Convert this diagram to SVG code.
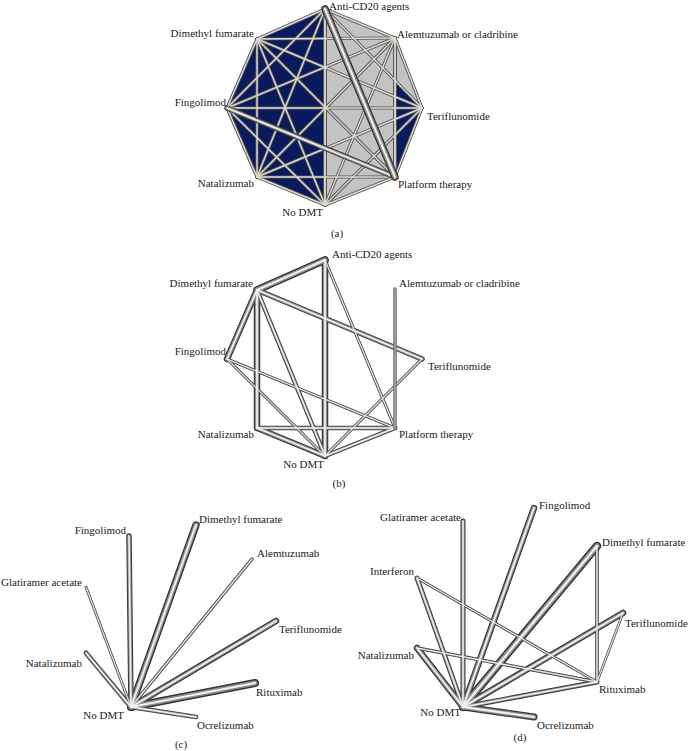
<svg xmlns="http://www.w3.org/2000/svg" width="688" height="751" viewBox="0 0 688 751">
<style>
text{font-family:"Liberation Serif","Times New Roman",serif;font-size:11px;fill:#1a1a1a}
.end{text-anchor:end}
.mid{text-anchor:middle}
line{stroke-linecap:round;fill:none}
.ao{stroke:#555}
.ai{stroke:#dedbd2}
.o{stroke:#363636}
.m{stroke:#8e8e8e}
.i{stroke:#f0f0f0}
</style>
<rect width="688" height="751" fill="#fff"/>

<!-- Panel (a) fills -->
<g id="a-fill">
<polygon points="325,9 395,38 422,108 395,177 325,205 257,177 227,108 257,39" fill="#0b1a5c"/>
<polygon points="325,9 395,38 422,108 395,80.4 395,177 325,205" fill="#c3c3c3"/>
</g>

<g id="a-edges">
<g stroke-width="3.2" class="ao">
<line x1="325" y1="9" x2="395" y2="38"/><line x1="395" y1="38" x2="422" y2="108"/><line x1="422" y1="108" x2="395" y2="177"/><line x1="395" y1="177" x2="325" y2="205"/><line x1="325" y1="205" x2="257" y2="177"/><line x1="257" y1="177" x2="227" y2="108"/><line x1="227" y1="108" x2="257" y2="39"/><line x1="257" y1="39" x2="325" y2="9"/>
<line x1="325" y1="9" x2="422" y2="108"/><line x1="325" y1="9" x2="257" y2="177"/><line x1="325" y1="9" x2="227" y2="108"/>
<line x1="395" y1="38" x2="325" y2="205"/><line x1="395" y1="38" x2="257" y2="177"/><line x1="395" y1="38" x2="227" y2="108"/><line x1="395" y1="38" x2="257" y2="39"/>
<line x1="422" y1="108" x2="325" y2="205"/><line x1="422" y1="108" x2="257" y2="177"/><line x1="422" y1="108" x2="227" y2="108"/><line x1="422" y1="108" x2="257" y2="39"/>
<line x1="395" y1="177" x2="257" y2="177"/><line x1="395" y1="177" x2="257" y2="39"/>
<line x1="325" y1="205" x2="227" y2="108"/><line x1="325" y1="205" x2="257" y2="39"/>
<line x1="257" y1="177" x2="257" y2="39"/>
<line x1="325" y1="9" x2="325" y2="205" stroke-width="4"/><line x1="395" y1="38" x2="395" y2="177" stroke-width="4"/>
</g>
<g stroke-width="1.4" class="ai">
<line x1="325" y1="9" x2="395" y2="38"/><line x1="395" y1="38" x2="422" y2="108"/><line x1="422" y1="108" x2="395" y2="177"/><line x1="395" y1="177" x2="325" y2="205"/><line x1="325" y1="205" x2="257" y2="177"/><line x1="257" y1="177" x2="227" y2="108"/><line x1="227" y1="108" x2="257" y2="39"/><line x1="257" y1="39" x2="325" y2="9"/>
<line x1="325" y1="9" x2="422" y2="108"/><line x1="325" y1="9" x2="257" y2="177"/><line x1="325" y1="9" x2="227" y2="108"/>
<line x1="395" y1="38" x2="325" y2="205"/><line x1="395" y1="38" x2="257" y2="177"/><line x1="395" y1="38" x2="227" y2="108"/><line x1="395" y1="38" x2="257" y2="39"/>
<line x1="422" y1="108" x2="325" y2="205"/><line x1="422" y1="108" x2="257" y2="177"/><line x1="422" y1="108" x2="227" y2="108"/><line x1="422" y1="108" x2="257" y2="39"/>
<line x1="395" y1="177" x2="257" y2="177"/><line x1="395" y1="177" x2="257" y2="39"/>
<line x1="325" y1="205" x2="227" y2="108"/><line x1="325" y1="205" x2="257" y2="39"/>
<line x1="257" y1="177" x2="257" y2="39"/>
<line x1="325" y1="9" x2="325" y2="205" stroke-width="1.8"/><line x1="395" y1="38" x2="395" y2="177" stroke-width="1.8"/>
</g>
<g>
<line x1="395" y1="177" x2="227" y2="108" class="o" stroke-width="5.5"/><line x1="395" y1="177" x2="227" y2="108" class="m" stroke-width="3.6"/><line x1="395" y1="177" x2="227" y2="108" class="i" stroke-width="1.6"/>
<line x1="325" y1="9" x2="395" y2="177" class="o" stroke-width="7.5"/><line x1="325" y1="9" x2="395" y2="177" class="m" stroke-width="4.8"/><line x1="325" y1="9" x2="395" y2="177" class="i" stroke-width="2"/>
</g>
</g>

<g id="a-nodes">
<g id="a-anticd20"><text x="329" y="10">Anti-CD20 agents</text></g>
<g id="a-alemtuzumab"><text x="397" y="38">Alemtuzumab or cladribine</text></g>
<g id="a-dmf"><text x="254" y="37" class="end">Dimethyl fumarate</text></g>
<g id="a-fingolimod"><text x="226" y="106" class="end">Fingolimod</text></g>
<g id="a-teriflunomide"><text x="427" y="120">Teriflunomide</text></g>
<g id="a-natalizumab"><text x="254" y="187" class="end">Natalizumab</text></g>
<g id="a-platform"><text x="398" y="188">Platform therapy</text></g>
<g id="a-nodmt"><text x="323" y="216" class="end">No DMT</text></g>
<text x="337" y="237" class="mid">(a)</text>
</g>

<!-- Panel (b) -->
<g id="b-edges">
<g class="o">
<line x1="325" y1="260" x2="395" y2="428" stroke-width="3"/><line x1="227" y1="359" x2="325" y2="456" stroke-width="3"/><line x1="227" y1="359" x2="395" y2="428" stroke-width="3"/><line x1="422" y1="359" x2="325" y2="456" stroke-width="3"/>
<line x1="257" y1="290" x2="325" y2="456" stroke-width="4.5"/><line x1="257" y1="428" x2="395" y2="428" stroke-width="4.5"/><line x1="325" y1="456" x2="395" y2="428" stroke-width="4.5"/>
<line x1="257" y1="290" x2="422" y2="359" stroke-width="5.5"/>
<line x1="257" y1="290" x2="227" y2="359" stroke-width="6.5"/><line x1="257" y1="290" x2="257" y2="428" stroke-width="6.5"/><line x1="325" y1="260" x2="325" y2="456" stroke-width="6.5"/><line x1="257" y1="428" x2="325" y2="456" stroke-width="6"/>
<line x1="257" y1="290" x2="325" y2="260" stroke-width="7.5"/>
</g>
<g class="m">
<line x1="325" y1="260" x2="395" y2="428" stroke-width="1.9"/><line x1="227" y1="359" x2="325" y2="456" stroke-width="1.9"/><line x1="227" y1="359" x2="395" y2="428" stroke-width="1.9"/><line x1="422" y1="359" x2="325" y2="456" stroke-width="1.9"/>
<line x1="257" y1="290" x2="325" y2="456" stroke-width="2.9"/><line x1="257" y1="428" x2="395" y2="428" stroke-width="2.9"/><line x1="325" y1="456" x2="395" y2="428" stroke-width="2.9"/>
<line x1="257" y1="290" x2="422" y2="359" stroke-width="3.6"/>
<line x1="257" y1="290" x2="227" y2="359" stroke-width="4.2"/><line x1="257" y1="290" x2="257" y2="428" stroke-width="4.2"/><line x1="325" y1="260" x2="325" y2="456" stroke-width="4.2"/><line x1="257" y1="428" x2="325" y2="456" stroke-width="3.9"/>
<line x1="257" y1="290" x2="325" y2="260" stroke-width="4.9"/>
</g>
<g class="i">
<line x1="325" y1="260" x2="395" y2="428" stroke-width="1"/><line x1="227" y1="359" x2="325" y2="456" stroke-width="1"/><line x1="227" y1="359" x2="395" y2="428" stroke-width="1"/><line x1="422" y1="359" x2="325" y2="456" stroke-width="1"/>
<line x1="257" y1="290" x2="325" y2="456" stroke-width="1.4"/><line x1="257" y1="428" x2="395" y2="428" stroke-width="1.4"/><line x1="325" y1="456" x2="395" y2="428" stroke-width="1.4"/>
<line x1="257" y1="290" x2="422" y2="359" stroke-width="1.6"/>
<line x1="257" y1="290" x2="227" y2="359" stroke-width="1.8"/><line x1="257" y1="290" x2="257" y2="428" stroke-width="1.8"/><line x1="325" y1="260" x2="325" y2="456" stroke-width="1.8"/><line x1="257" y1="428" x2="325" y2="456" stroke-width="1.7"/>
<line x1="257" y1="290" x2="325" y2="260" stroke-width="2"/>
</g>
<line x1="395" y1="289" x2="395" y2="428" stroke="#6a6a6a" stroke-width="3.5"/><line x1="395" y1="289" x2="395" y2="428" stroke="#a8a8a8" stroke-width="1.5"/>
</g>

<g id="b-nodes">
<g id="b-anticd20"><text x="332" y="258">Anti-CD20 agents</text></g>
<g id="b-alemtuzumab"><text x="399" y="287">Alemtuzumab or cladribine</text></g>
<g id="b-dmf"><text x="253" y="287" class="end">Dimethyl fumarate</text></g>
<g id="b-fingolimod"><text x="226" y="355" class="end">Fingolimod</text></g>
<g id="b-teriflunomide"><text x="428" y="370">Teriflunomide</text></g>
<g id="b-natalizumab"><text x="254" y="438" class="end">Natalizumab</text></g>
<g id="b-platform"><text x="399" y="438">Platform therapy</text></g>
<g id="b-nodmt"><text x="324" y="468" class="end">No DMT</text></g>
<text x="339" y="487" class="mid">(b)</text>
</g>

<!-- Panel (c) -->
<g id="c-edges">
<g class="o">
<line x1="131" y1="707" x2="86" y2="587" stroke-width="2.8"/><line x1="131" y1="707" x2="252" y2="559" stroke-width="3.5"/><line x1="131" y1="707" x2="196" y2="717" stroke-width="4.5"/><line x1="131" y1="707" x2="86" y2="653" stroke-width="5"/><line x1="131" y1="707" x2="129" y2="536" stroke-width="5.5"/><line x1="131" y1="707" x2="276" y2="621" stroke-width="6.5"/><line x1="131" y1="707" x2="196" y2="525" stroke-width="7.5"/><line x1="131" y1="707" x2="255" y2="683" stroke-width="8"/>
</g>
<g class="m">
<line x1="131" y1="707" x2="86" y2="587" stroke-width="1.8"/><line x1="131" y1="707" x2="252" y2="559" stroke-width="2.2"/><line x1="131" y1="707" x2="196" y2="717" stroke-width="2.9"/><line x1="131" y1="707" x2="86" y2="653" stroke-width="3.2"/><line x1="131" y1="707" x2="129" y2="536" stroke-width="3.5"/><line x1="131" y1="707" x2="276" y2="621" stroke-width="4.2"/><line x1="131" y1="707" x2="196" y2="525" stroke-width="4.8"/><line x1="131" y1="707" x2="255" y2="683" stroke-width="5.1"/>
</g>
<g class="i">
<line x1="131" y1="707" x2="86" y2="587" stroke-width="0.9"/><line x1="131" y1="707" x2="252" y2="559" stroke-width="1.1"/><line x1="131" y1="707" x2="196" y2="717" stroke-width="1.4"/><line x1="131" y1="707" x2="86" y2="653" stroke-width="1.5"/><line x1="131" y1="707" x2="129" y2="536" stroke-width="1.6"/><line x1="131" y1="707" x2="276" y2="621" stroke-width="1.9"/><line x1="131" y1="707" x2="196" y2="525" stroke-width="2.1"/><line x1="131" y1="707" x2="255" y2="683" stroke-width="2.2"/>
</g>
</g>

<g id="c-nodes">
<g id="c-fingolimod"><text x="126" y="534" class="end">Fingolimod</text></g>
<g id="c-dmf"><text x="199" y="523">Dimethyl fumarate</text></g>
<g id="c-alemtuzumab"><text x="257" y="557">Alemtuzumab</text></g>
<g id="c-glatiramer"><text x="82" y="586" class="end">Glatiramer acetate</text></g>
<g id="c-teriflunomide"><text x="279" y="633">Teriflunomide</text></g>
<g id="c-natalizumab"><text x="82" y="667" class="end">Natalizumab</text></g>
<g id="c-rituximab"><text x="256" y="696">Rituximab</text></g>
<g id="c-nodmt"><text x="124" y="719" class="end">No DMT</text></g>
<g id="c-ocrelizumab"><text x="197" y="729">Ocrelizumab</text></g>
<text x="181" y="748" class="mid">(c)</text>
</g>

<!-- Panel (d) -->
<g id="d-edges">
<g class="o">
<line x1="623" y1="613" x2="597" y2="682" stroke-width="2.5"/><line x1="417" y1="578" x2="597" y2="682" stroke-width="3"/><line x1="417" y1="648" x2="597" y2="682" stroke-width="3.5"/><line x1="597" y1="546" x2="597" y2="682" stroke-width="3.5"/>
<line x1="463" y1="707" x2="463" y2="521" stroke-width="5"/><line x1="463" y1="707" x2="417" y2="578" stroke-width="5"/><line x1="463" y1="707" x2="597" y2="682" stroke-width="5"/><line x1="463" y1="707" x2="534" y2="508" stroke-width="6.5"/><line x1="463" y1="707" x2="623" y2="613" stroke-width="6.5"/><line x1="463" y1="707" x2="417" y2="648" stroke-width="6.5"/><line x1="463" y1="707" x2="534" y2="717" stroke-width="7"/><line x1="463" y1="707" x2="597" y2="546" stroke-width="8.5"/>
</g>
<g class="m">
<line x1="623" y1="613" x2="597" y2="682" stroke-width="1.6"/><line x1="417" y1="578" x2="597" y2="682" stroke-width="1.9"/><line x1="417" y1="648" x2="597" y2="682" stroke-width="2.2"/><line x1="597" y1="546" x2="597" y2="682" stroke-width="2.2"/>
<line x1="463" y1="707" x2="463" y2="521" stroke-width="3.2"/><line x1="463" y1="707" x2="417" y2="578" stroke-width="3.2"/><line x1="463" y1="707" x2="597" y2="682" stroke-width="3.2"/><line x1="463" y1="707" x2="534" y2="508" stroke-width="4.2"/><line x1="463" y1="707" x2="623" y2="613" stroke-width="4.2"/><line x1="463" y1="707" x2="417" y2="648" stroke-width="4.2"/><line x1="463" y1="707" x2="534" y2="717" stroke-width="4.5"/><line x1="463" y1="707" x2="597" y2="546" stroke-width="5.5"/>
</g>
<g class="i">
<line x1="623" y1="613" x2="597" y2="682" stroke-width="0.9"/><line x1="417" y1="578" x2="597" y2="682" stroke-width="1"/><line x1="417" y1="648" x2="597" y2="682" stroke-width="1.1"/><line x1="597" y1="546" x2="597" y2="682" stroke-width="1.1"/>
<line x1="463" y1="707" x2="463" y2="521" stroke-width="1.5"/><line x1="463" y1="707" x2="417" y2="578" stroke-width="1.5"/><line x1="463" y1="707" x2="597" y2="682" stroke-width="1.5"/><line x1="463" y1="707" x2="534" y2="508" stroke-width="1.9"/><line x1="463" y1="707" x2="623" y2="613" stroke-width="1.9"/><line x1="463" y1="707" x2="417" y2="648" stroke-width="1.9"/><line x1="463" y1="707" x2="534" y2="717" stroke-width="2"/><line x1="463" y1="707" x2="597" y2="546" stroke-width="2.4"/>
</g>
</g>

<g id="d-nodes">
<g id="d-glatiramer"><text x="461" y="521" class="end">Glatiramer acetate</text></g>
<g id="d-fingolimod"><text x="539" y="509">Fingolimod</text></g>
<g id="d-dmf"><text x="602" y="546">Dimethyl fumarate</text></g>
<g id="d-interferon"><text x="414" y="575" class="end">Interferon</text></g>
<g id="d-teriflunomide"><text x="625" y="627">Teriflunomide</text></g>
<g id="d-natalizumab"><text x="414" y="659" class="end">Natalizumab</text></g>
<g id="d-rituximab"><text x="599" y="693">Rituximab</text></g>
<g id="d-nodmt"><text x="461" y="716" class="end">No DMT</text></g>
<g id="d-ocrelizumab"><text x="537" y="729">Ocrelizumab</text></g>
<text x="520" y="741" class="mid">(d)</text>
</g>
</svg>
